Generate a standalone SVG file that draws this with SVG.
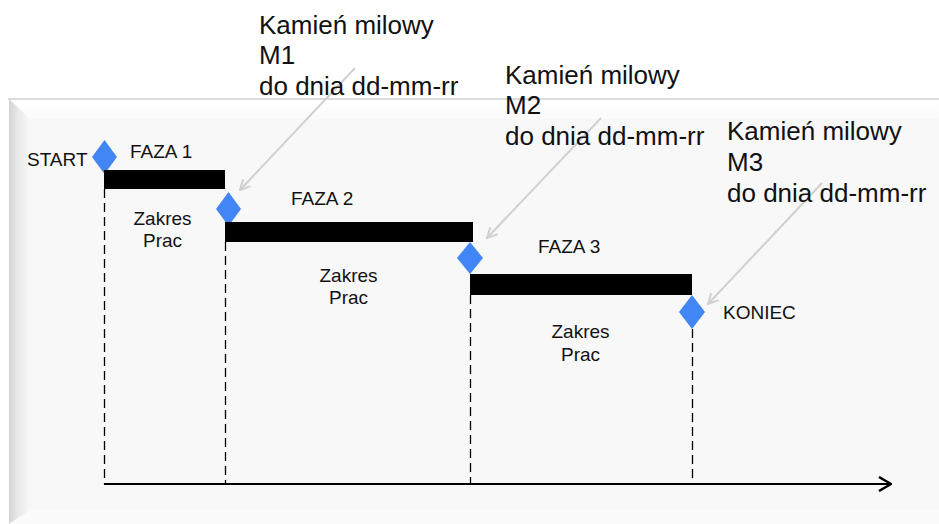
<svg xmlns="http://www.w3.org/2000/svg" width="939" height="524" viewBox="0 0 939 524">
  <defs>
    <linearGradient id="leftBevel" x1="0" y1="0" x2="1" y2="0">
      <stop offset="0" stop-color="#d4d4d4"/>
      <stop offset="0.35" stop-color="#e6e6e6"/>
      <stop offset="1" stop-color="#f8f8f8"/>
    </linearGradient>
    <linearGradient id="topBevel" x1="0" y1="0" x2="0" y2="1">
      <stop offset="0" stop-color="#ffffff"/>
      <stop offset="1" stop-color="#fbfbfb"/>
    </linearGradient>
    <marker id="grayHead" viewBox="0 0 12 12" refX="11" refY="6" markerWidth="12" markerHeight="12" markerUnits="userSpaceOnUse" orient="auto">
      <path d="M1,1 L11,6 L1,11" fill="none" stroke="#d0d0d0" stroke-width="2"/>
    </marker>
    <marker id="axisHead" viewBox="0 0 14 16" refX="13" refY="8" markerWidth="14" markerHeight="16" markerUnits="userSpaceOnUse" orient="auto">
      <path d="M1,1 L13,8 L1,15" fill="none" stroke="#000" stroke-width="2.5"/>
    </marker>
  </defs>
  <style>
    text { font-family: "Liberation Sans", Arial, sans-serif; fill: #111; }
    .big { font-size: 26px; }
    .small { font-size: 19px; }
    .mid { text-anchor: middle; }
    .bar { fill: #000; }
    .ms { fill: #4285f4; }
    .dash { stroke: #000; stroke-width: 1.3; stroke-dasharray: 9 5; fill: none; }
    .callout { stroke: #d0d0d0; stroke-width: 2; fill: none; marker-end: url(#grayHead); }
  </style>

  <rect width="939" height="524" fill="#ffffff"/>

  <!-- bevelled backdrop panel -->
  <g id="panel">
    <rect x="9" y="99" width="930" height="425" fill="#f8f8f8"/>
    <path d="M9,99 L939,99 L939,119 L30,119 Z" fill="url(#topBevel)"/>
    <path d="M9,99 L30,119 L30,510 L9,524 Z" fill="url(#leftBevel)"/>
    <path d="M9,524 L30,510 L939,510 L939,524 Z" fill="#fbfbfb"/>
    <line x1="8" y1="99" x2="939" y2="99" stroke="#cfcfcf" stroke-width="1.5"/>
  </g>

  <!-- connectors: phase boundaries, time axis, milestone callouts -->
  <g id="connectors">
    <line class="dash" x1="104.5" y1="189" x2="104.5" y2="484"/>
    <line class="dash" x1="225.5" y1="242" x2="225.5" y2="484"/>
    <line class="dash" x1="470.5" y1="295" x2="470.5" y2="484"/>
    <line class="dash" x1="692.5" y1="329" x2="692.5" y2="484"/>
    <line x1="104" y1="484" x2="891" y2="484" stroke="#000" stroke-width="2" marker-end="url(#axisHead)"/>
    <line class="callout" x1="355" y1="68" x2="240" y2="190"/>
    <line class="callout" x1="601" y1="118" x2="487" y2="238"/>
    <line class="callout" x1="822" y1="183" x2="708" y2="304"/>
  </g>

  <g id="start">
    <polygon class="ms" points="104.5,140 117,157 104.5,174 92,157"/>
    <text class="small" x="27" y="166">START</text>
  </g>

  <g id="phase1">
    <rect class="bar" x="104" y="170" width="121" height="19"/>
    <text class="small" x="130" y="158">FAZA 1</text>
    <text class="small mid" x="162.5" y="225">Zakres</text>
    <text class="small mid" x="162.5" y="247">Prac</text>
  </g>

  <g id="milestone1">
    <polygon class="ms" points="228.5,192 241,209 228.5,226 216,209"/>
    <text class="big" x="259" y="34">Kamień milowy</text>
    <text class="big" x="259" y="64">M1</text>
    <text class="big" x="259" y="95">do dnia dd-mm-rr</text>
  </g>

  <g id="phase2">
    <rect class="bar" x="225" y="222" width="248" height="20"/>
    <text class="small" x="291" y="205">FAZA 2</text>
    <text class="small mid" x="348.5" y="282">Zakres</text>
    <text class="small mid" x="348.5" y="304">Prac</text>
  </g>

  <g id="milestone2">
    <polygon class="ms" points="470,242 483,258 470,274 457,258"/>
    <text class="big" x="505" y="84">Kamień milowy</text>
    <text class="big" x="505" y="114">M2</text>
    <text class="big" x="505" y="145">do dnia dd-mm-rr</text>
  </g>

  <g id="phase3">
    <rect class="bar" x="470" y="274" width="222" height="21"/>
    <text class="small" x="538" y="253">FAZA 3</text>
    <text class="small mid" x="580.5" y="338">Zakres</text>
    <text class="small mid" x="580.5" y="361">Prac</text>
  </g>

  <g id="milestone3">
    <polygon class="ms" points="692,295 705,312 692,329 679,312"/>
    <text class="big" x="727" y="140">Kamień milowy</text>
    <text class="big" x="727" y="171">M3</text>
    <text class="big" x="727" y="202">do dnia dd-mm-rr</text>
  </g>

  <g id="end">
    <text class="small" x="723" y="319">KONIEC</text>
  </g>
</svg>
